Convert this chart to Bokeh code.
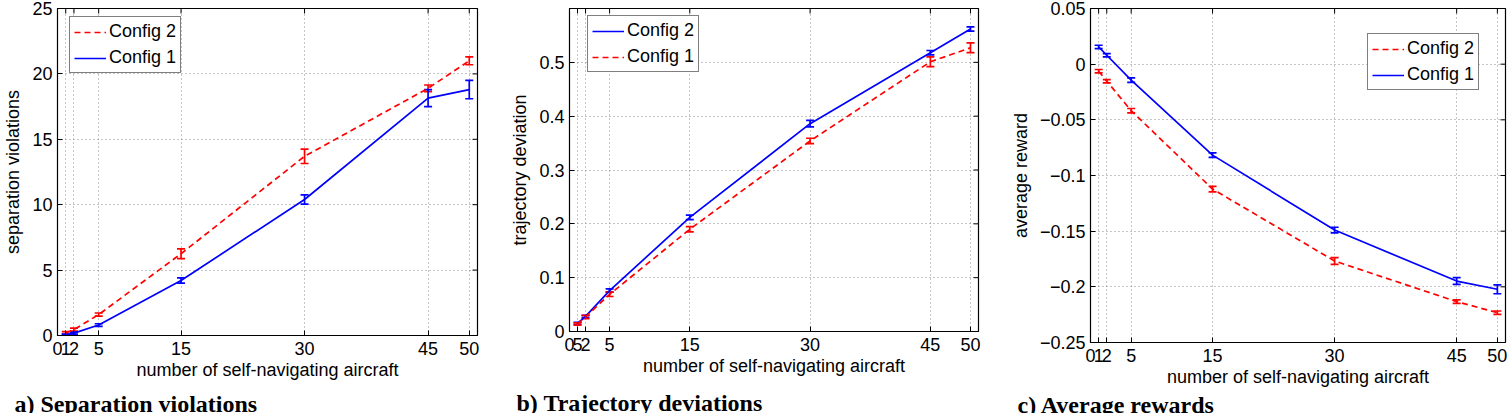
from bokeh.plotting import figure
from bokeh.layouts import row
from bokeh.models import (ColumnDataSource, Whisker, TeeHead, FixedTicker,
                          Legend, LegendItem, Title, Range1d)
from bokeh.embed import file_html
from bokeh.resources import INLINE

# ---------------- data ----------------
x_aircraft = [1, 2, 5, 15, 30, 45, 50]
x_ticks = [0, 1, 2, 5, 15, 30, 45, 50]
x_max = 51

sep_config2 = [0.2, 0.45, 1.6, 6.25, 13.7, 18.9, 21.0]
sep_config2_err = [0.1, 0.12, 0.12, 0.38, 0.55, 0.25, 0.3]
sep_config1 = [0.05, 0.18, 0.8, 4.2, 10.4, 18.15, 18.8]
sep_config1_err = [0.05, 0.08, 0.1, 0.2, 0.35, 0.65, 0.7]
sep_yticks = [0, 5, 10, 15, 20, 25]

traj_config2 = [0.015, 0.028, 0.076, 0.212, 0.386, 0.518, 0.562]
traj_config2_err = [0.002, 0.002, 0.003, 0.004, 0.006, 0.004, 0.004]
traj_config1 = [0.014, 0.027, 0.069, 0.190, 0.354, 0.501, 0.527]
traj_config1_err = [0.002, 0.003, 0.004, 0.005, 0.005, 0.009, 0.009]
traj_yticks = [0, 0.1, 0.2, 0.3, 0.4, 0.5]

rew_config1 = [0.0155, 0.008, -0.0144, -0.0817, -0.149, -0.1948, -0.2022]
rew_config1_err = [0.0015, 0.0015, 0.002, 0.002, 0.0025, 0.003, 0.004]
rew_config2 = [-0.0063, -0.0153, -0.0418, -0.1122, -0.1768, -0.2133, -0.2232]
rew_config2_err = [0.0015, 0.0015, 0.002, 0.0025, 0.003, 0.0015, 0.0015]
rew_yticks = [-0.25, -0.2, -0.15, -0.1, -0.05, 0, 0.05]
rew_ylabels = ["\u22120.25", "\u22120.2", "\u22120.15", "\u22120.1", "\u22120.05", "0", "0.05"]

RED = "#ff0000"
BLUE = "#0000ff"
FONT = "Liberation Sans"
SERIF = "Liberation Serif"


def style_axis(ax, ticks, labels=None, size="18px"):
    ax.ticker = FixedTicker(ticks=ticks)
    ax.minor_tick_line_color = None
    ax.major_tick_in = 5
    ax.major_tick_out = 0
    ax.axis_line_color = "black"
    ax.major_tick_line_color = "black"
    ax.major_label_text_font = FONT
    ax.major_label_text_font_size = size
    ax.major_label_text_color = "black"
    ax.axis_label_text_font = FONT
    ax.axis_label_text_font_size = "18px"
    ax.axis_label_text_font_style = "normal"
    ax.axis_label_text_color = "black"
    if labels is not None:
        ax.major_label_overrides = labels


def panel(series, y_range, yticks, ylabels, ylabel, caption, xlabels,
          borders, frame, legend_loc, cap_offset, cap_standoff):
    left, right, top, bottom = borders
    fw, fh = frame
    p = figure(frame_width=fw, frame_height=fh, min_border_left=left,
               min_border_right=right, min_border_top=top, min_border_bottom=bottom,
               x_range=Range1d(0, x_max), y_range=Range1d(*y_range),
               output_backend="svg", toolbar_location=None,
               background_fill_color="white", border_fill_color="white")
    p.outline_line_color = "black"
    p.outline_line_width = 1.2

    style_axis(p.xaxis[0], x_ticks, xlabels)
    style_axis(p.yaxis[0], yticks, ylabels)
    p.xaxis[0].axis_label = "number of self-navigating aircraft"
    p.yaxis[0].axis_label = ylabel
    p.xaxis[0].major_label_standoff = 6
    p.xaxis[0].axis_label_standoff = 2
    p.yaxis[0].major_label_standoff = 5
    p.yaxis[0].axis_label_standoff = 6

    for g in (p.xgrid[0], p.ygrid[0]):
        g.grid_line_color = "#8a8a8a"
        g.grid_line_dash = "1 3"
        g.grid_line_width = 1
    p.xgrid[0].ticker = FixedTicker(ticks=x_ticks)
    p.ygrid[0].ticker = FixedTicker(ticks=yticks)

    # inward tick marks on the right and top edges of the box (clipped to frame)
    p.scatter(x=[x_max] * len(yticks), y=yticks, marker="dash", size=10,
              line_color="black", line_width=1)
    p.scatter(x=x_ticks, y=[y_range[1]] * len(x_ticks), marker="dash", size=10,
              angle=1.5708, line_color="black", line_width=1)

    items = []
    for name, ys, errs, color, dash in series:
        src = ColumnDataSource(dict(
            x=x_aircraft, y=ys,
            upper=[a + b for a, b in zip(ys, errs)],
            lower=[a - b for a, b in zip(ys, errs)]))
        r = p.line("x", "y", source=src, line_color=color, line_width=1.7,
                   line_dash=dash)
        w = Whisker(source=src, base="x", upper="upper", lower="lower",
                    line_color=color, line_width=1.7,
                    upper_head=TeeHead(size=8, line_color=color, line_width=1.7),
                    lower_head=TeeHead(size=8, line_color=color, line_width=1.7))
        p.add_layout(w)
        items.append(LegendItem(label=name, renderers=[r]))

    leg = Legend(items=items, location=legend_loc)
    leg.border_line_color = "black"
    leg.border_line_width = 1.2
    leg.background_fill_color = "white"
    leg.background_fill_alpha = 1
    leg.label_text_font = FONT
    leg.label_text_font_size = "18px"
    leg.label_text_color = "black"
    leg.glyph_width = 32
    leg.glyph_height = 20
    leg.label_height = 20
    leg.label_standoff = 3
    leg.spacing = 5
    leg.padding = 4
    leg.margin = 0
    p.add_layout(leg, "center")

    t = Title(text=caption, align="left", offset=cap_offset,
              text_font=SERIF, text_font_size="24px", text_font_style="bold",
              text_color="black", standoff=cap_standoff)
    p.add_layout(t, "below")
    return p


pa = panel(
    [("Config 2", sep_config2, sep_config2_err, RED, "6 4"),
     ("Config 1", sep_config1, sep_config1_err, BLUE, "solid")],
    (0, 25), sep_yticks, None, "separation violations",
    "a) Separation violations", None,
    (53, 17, 8, 78), (420, 327), (12, 262), -43, 12)

pb = panel(
    [("Config 2", traj_config2, traj_config2_err, BLUE, "solid"),
     ("Config 1", traj_config1, traj_config1_err, RED, "6 4")],
    (0, 0.6), traj_yticks, None, "trajectory deviation",
    "b) Trajectory deviations", {1: "5"},
    (75, 26, 6, 84), (409, 323), (18, 259), -53, 19)

pc = panel(
    [("Config 2", rew_config2, rew_config2_err, RED, "6 4"),
     ("Config 1", rew_config1, rew_config1_err, BLUE, "solid")],
    (-0.25, 0.05), rew_yticks, dict(zip(rew_yticks, rew_ylabels)), "average reward",
    "c) Average rewards", None,
    (86, 8, 5, 74), (415, 334), (277, 252), -73, 0)

layout = row(pa, pb, pc)
open("out.html", "w").write(file_html(layout, INLINE))
